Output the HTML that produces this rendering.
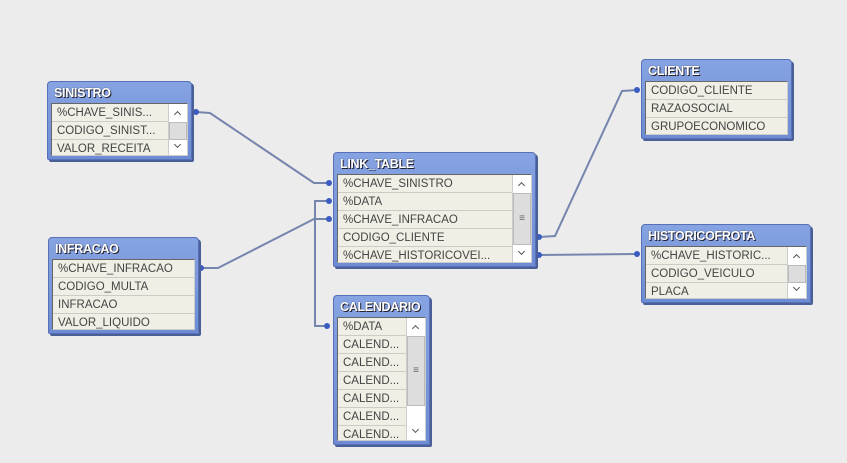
<!DOCTYPE html>
<html><head><style>
body{margin:0;width:847px;height:463px;background:#ececec;position:relative;overflow:hidden;font-family:"Liberation Sans",sans-serif}
.box{position:absolute;background:linear-gradient(#86a3e2,#6d8cd3);border:1px solid #5870b8;border-radius:4px 4px 2px 2px;box-shadow:2px 2px 0 #4a5f98}
.t{position:absolute;left:6px;top:4px;color:#fff;font-weight:bold;font-size:12.5px;text-shadow:1px 1px 0 #223,0 0 1px #334;letter-spacing:-0.3px}
.rows{position:absolute;left:3px;top:21px;right:3px;bottom:3px;background:#f0efe6;border:1px solid #666;border-right-color:#ccc;border-bottom-color:#ccc;box-sizing:border-box;overflow:hidden}
.r{height:18px;line-height:18px;border-bottom:1px solid #ccccc4;box-sizing:border-box;padding-left:5px;font-size:11.5px;color:#444;white-space:nowrap}
.sb{position:absolute;right:0;top:0;bottom:0;width:18px;background:#fff;border-left:1px solid #ccc}
.sb .th{position:absolute;left:0;right:0;background:#ddd;border:1px solid #bbb}
.sb .a{position:absolute;left:0;right:0;height:18px}
.up:after,.dn:after{content:"";position:absolute;left:6px;width:4px;height:4px;border-left:1px solid #555;border-top:1px solid #555;transform:rotate(45deg)}
.up:after{top:8px}
.dn:after{top:5px;transform:rotate(225deg)}
svg{position:absolute;left:0;top:0}
</style></head><body>
<svg width="847" height="463">
<g stroke="#7585ad" stroke-width="2" fill="none">
<polyline points="196,112 210,113 314,183 329,183"/>
<polyline points="201,268 218,268 314,219 329,219"/>
<polyline points="329,201 315,201 315,326 327,326"/>
<polyline points="539,237 555,236 622,91 637,90"/>
<polyline points="539,255 637,254"/>
</g>
<g fill="#3a5cc0">
<circle cx="196" cy="112" r="3"/><circle cx="201" cy="268" r="3"/>
<circle cx="329" cy="183" r="3"/><circle cx="329" cy="201" r="3"/><circle cx="329" cy="219" r="3"/>
<circle cx="327" cy="326" r="3"/><circle cx="539" cy="237" r="3"/><circle cx="539" cy="255" r="3"/>
<circle cx="637" cy="90" r="3"/><circle cx="637" cy="254" r="3"/>
</g>
</svg>

<div class="box" style="left:47px;top:81px;width:143px;height:77px"><div class="t">SINISTRO</div>
<div class="rows"><div class="r">%CHAVE_SINIS...</div><div class="r">CODIGO_SINIST...</div><div class="r">VALOR_RECEITA</div>
<div class="sb"><div class="a up" style="top:0"></div><div class="th" style="top:18px;height:16px"></div><div class="a dn" style="bottom:0"></div></div></div></div>

<div class="box" style="left:48px;top:237px;width:149px;height:95px"><div class="t">INFRACAO</div>
<div class="rows"><div class="r">%CHAVE_INFRACAO</div><div class="r">CODIGO_MULTA</div><div class="r">INFRACAO</div><div class="r">VALOR_LIQUIDO</div></div></div>

<div class="box" style="left:333px;top:152px;width:201px;height:113px"><div class="t">LINK_TABLE</div>
<div class="rows"><div class="r">%CHAVE_SINISTRO</div><div class="r">%DATA</div><div class="r">%CHAVE_INFRACAO</div><div class="r">CODIGO_CLIENTE</div><div class="r">%CHAVE_HISTORICOVEI...</div>
<div class="sb"><div class="a up" style="top:0"></div><div class="th" style="top:18px;height:50px;text-align:center;font-size:10px;line-height:50px;color:#666">≡</div><div class="a dn" style="bottom:0"></div></div></div></div>

<div class="box" style="left:333px;top:295px;width:95px;height:148px"><div class="t">CALENDARIO</div>
<div class="rows"><div class="r">%DATA</div><div class="r">CALEND...</div><div class="r">CALEND...</div><div class="r">CALEND...</div><div class="r">CALEND...</div><div class="r">CALEND...</div><div class="r">CALEND...</div>
<div class="sb"><div class="a up" style="top:0"></div><div class="th" style="top:18px;height:68px;text-align:center;font-size:10px;line-height:68px;color:#666">≡</div><div class="a dn" style="bottom:0"></div></div></div></div>

<div class="box" style="left:641px;top:59px;width:149px;height:78px"><div class="t">CLIENTE</div>
<div class="rows"><div class="r">CODIGO_CLIENTE</div><div class="r">RAZAOSOCIAL</div><div class="r">GRUPOECONOMICO</div></div></div>

<div class="box" style="left:641px;top:224px;width:168px;height:77px"><div class="t">HISTORICOFROTA</div>
<div class="rows"><div class="r">%CHAVE_HISTORIC...</div><div class="r">CODIGO_VEICULO</div><div class="r">PLACA</div>
<div class="sb"><div class="a up" style="top:0"></div><div class="th" style="top:18px;height:16px"></div><div class="a dn" style="bottom:0"></div></div></div></div>
</body></html>
